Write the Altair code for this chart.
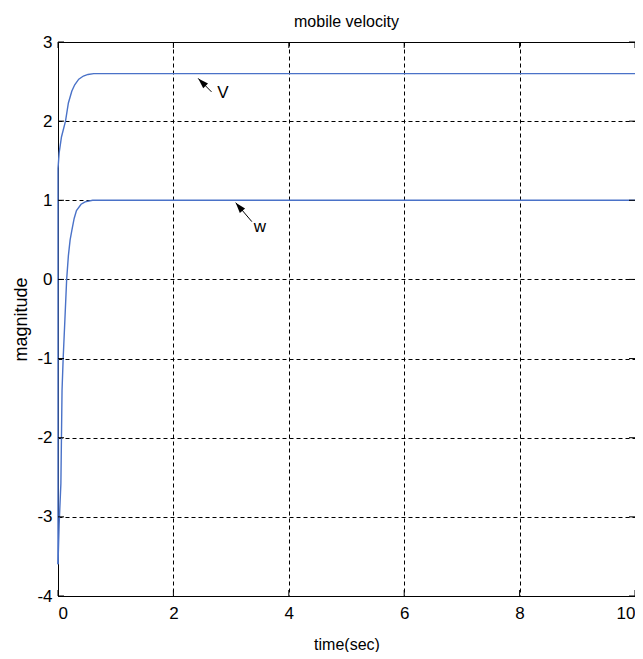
import altair as alt
import pandas as pd

# --- data ---
v_t = [0, 0, 0.02, 0.06, 0.13, 0.18, 0.24, 0.29, 0.36, 0.44, 0.52, 0.62, 0.75, 10]
v_val = [-3.6, 1.4, 1.6, 1.8, 2.0, 2.23, 2.38, 2.46, 2.53, 2.57, 2.59, 2.6, 2.6, 2.6]

w_t = [0, 0.02, 0.05, 0.07, 0.09, 0.12, 0.15, 0.18, 0.21, 0.24, 0.28, 0.32, 0.4, 0.47, 0.6, 10]
w_val = [-3.6, -3.09, -2.58, -1.4, -0.99, -0.5, 0.0, 0.3, 0.5, 0.62, 0.77, 0.87, 0.95, 0.98, 1.0, 1.0]

labels = ["V", "w"]
tip_t = [2.43, 3.08]
tip_val = [2.54, 0.97]
tail_t = [2.66, 3.36]
tail_val = [2.37, 0.73]
text_t = [2.86, 3.5]
text_val = [2.35, 0.66]
head_angle = [315, 320]

x_ticks = [0, 2, 4, 6, 8, 10]
y_ticks = [-4, -3, -2, -1, 0, 1, 2, 3]

W, H = 577, 554
FONT = "Liberation Sans"
BLUE = "#4a72c8"

rows = []
for i, (t, v) in enumerate(zip(v_t, v_val)):
    rows.append({"series": "V", "i": i, "t": t, "val": v})
for i, (t, v) in enumerate(zip(w_t, w_val)):
    rows.append({"series": "w", "i": i, "t": t, "val": v})
lines_df = pd.DataFrame(rows)

ann_df = pd.DataFrame({
    "label": labels, "tip_t": tip_t, "tip_val": tip_val,
    "tail_t": tail_t, "tail_val": tail_val,
    "text_t": text_t, "text_val": text_val, "angle": head_angle,
})

xs = alt.Scale(domain=[0, 10], nice=False, zero=False)
ys = alt.Scale(domain=[-4, 3], nice=False, zero=False)

lab_expr = "replace(format(datum.value, 'd'), '\u2212', '-')"
xaxis = alt.Axis(values=x_ticks, title="time(sec)", grid=True, labelFontSize=17,
                 titleFontSize=16, labelPadding=9, titlePadding=15, labelExpr=lab_expr)
yaxis = alt.Axis(values=y_ticks, title="magnitude", grid=True, labelFontSize=17,
                 titleFontSize=18, labelPadding=6, titlePadding=6, labelExpr=lab_expr)

lines = alt.Chart(lines_df).mark_line(strokeWidth=1.4).encode(
    x=alt.X("t:Q", scale=xs, axis=xaxis),
    y=alt.Y("val:Q", scale=ys, axis=yaxis),
    color=alt.Color("series:N", scale=alt.Scale(range=[BLUE, BLUE]), legend=None),
    order=alt.Order("i:Q"),
)

shafts = alt.Chart(ann_df).mark_rule(color="black", strokeWidth=1).encode(
    x=alt.X("tip_t:Q", scale=xs), y=alt.Y("tip_val:Q", scale=ys),
    x2="tail_t:Q", y2="tail_val:Q",
)

heads = alt.Chart(ann_df).mark_point(
    shape="M0,0L-0.65,2L0.65,2Z", filled=True, color="black", opacity=1, size=110,
).encode(
    x=alt.X("tip_t:Q", scale=xs), y=alt.Y("tip_val:Q", scale=ys),
    angle=alt.Angle("angle:Q", scale=None),
)

texts = alt.Chart(ann_df).mark_text(font=FONT, fontSize=17, color="black").encode(
    x=alt.X("text_t:Q", scale=xs), y=alt.Y("text_val:Q", scale=ys), text="label:N",
)

xt_df = pd.DataFrame({"t": x_ticks})
yt_df = pd.DataFrame({"v": y_ticks})
tick_b = alt.Chart(xt_df).mark_rule(color="black").encode(
    x=alt.X("t:Q", scale=xs), y=alt.value(H), y2=alt.value(H - 6))
tick_t = alt.Chart(xt_df).mark_rule(color="black").encode(
    x=alt.X("t:Q", scale=xs), y=alt.value(0), y2=alt.value(6))
tick_l = alt.Chart(yt_df).mark_rule(color="black").encode(
    y=alt.Y("v:Q", scale=ys), x=alt.value(0), x2=alt.value(6))
tick_r = alt.Chart(yt_df).mark_rule(color="black").encode(
    y=alt.Y("v:Q", scale=ys), x=alt.value(W), x2=alt.value(W - 6))

chart = alt.layer(lines, tick_b, tick_t, tick_l, tick_r, shafts, heads, texts).properties(
    width=W, height=H,
    title=alt.Title("mobile velocity", font=FONT, fontSize=16, fontWeight="normal",
                    color="black", offset=3),
    autosize=alt.AutoSizeParams(type="none"),
    padding={"left": 50, "top": 34, "right": 0, "bottom": 56},
).configure_view(stroke="black", strokeWidth=1).configure_axis(
    domain=False, ticks=False, gridColor="black", gridDash=[4, 3], gridOpacity=1,
    gridWidth=1, labelFont=FONT, titleFont=FONT, labelColor="black", titleColor="black",
    titleFontWeight="normal",
)

chart.save("out.html", embed_options={"renderer": "svg", "actions": False})
